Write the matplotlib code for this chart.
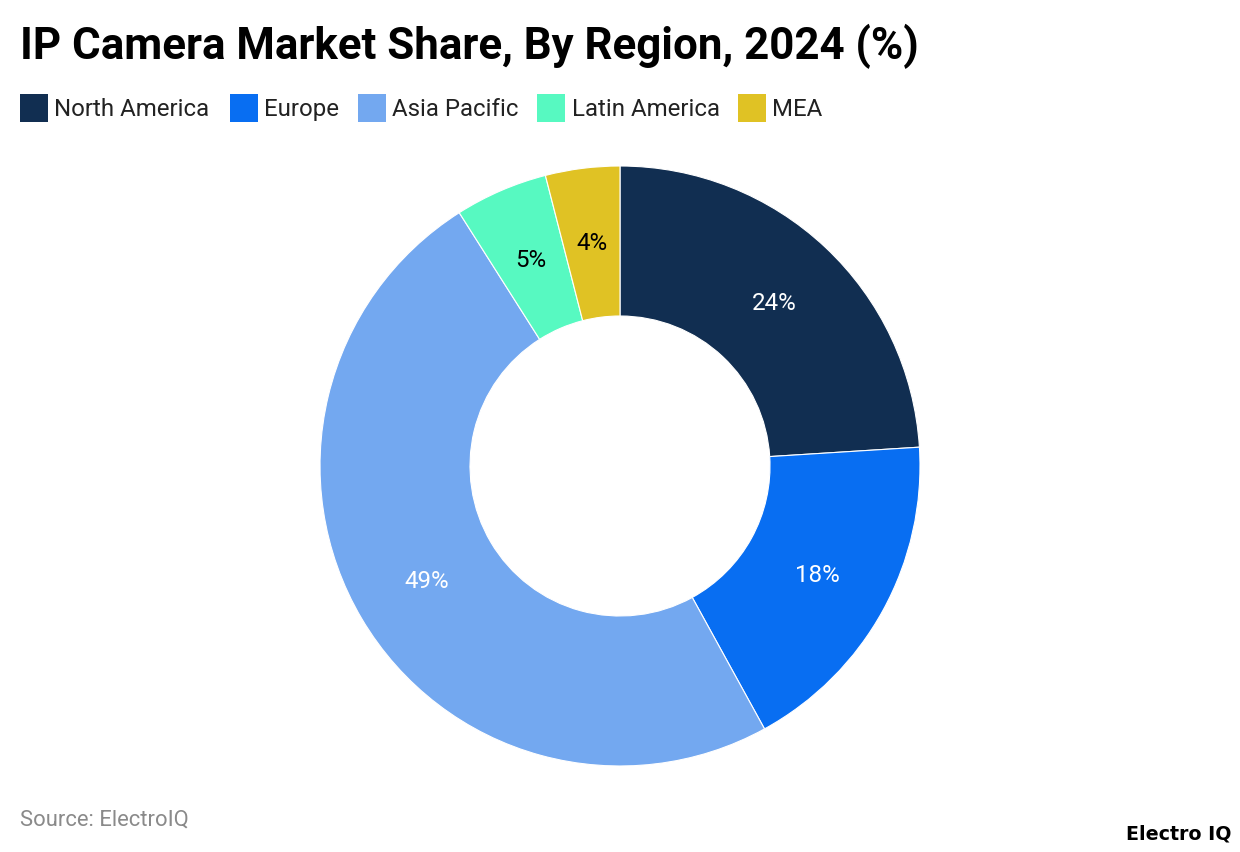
import numpy as np
import matplotlib
matplotlib.use("Agg")
import matplotlib.pyplot as plt
from matplotlib.patches import Rectangle

plt.rcParams["font.family"] = "Roboto"

regions = ["North America", "Europe", "Asia Pacific", "Latin America", "MEA"]
shares = [24, 18, 49, 5, 4]
colors = ["#112E51", "#086EF2", "#73A8F0", "#57F9C1", "#E0C224"]
label_colors = ["white", "white", "white", "black", "black"]
# left edge of each legend swatch, in pixels
legend_x = [20, 230, 358, 537, 738]

W, H = 1240, 852
fig = plt.figure(figsize=(W / 100, H / 100), dpi=100, facecolor="white")

# full-figure axes in pixel coords for the text and the legend
bg = fig.add_axes([0, 0, 1, 1])
bg.set_xlim(0, W)
bg.set_ylim(H, 0)
bg.axis("off")

bg.text(20, 46, "IP Camera Market Share, By Region, 2024 (%)", fontsize=31.63,
        fontweight="bold", color="black", va="center", ha="left")

for name, c, x in zip(regions, colors, legend_x):
    bg.add_patch(Rectangle((x, 94), 28, 28, facecolor=c, edgecolor="none"))
    bg.text(x + 34.5, 109.5, name, fontsize=17.25, color="#222222", va="center", ha="left")

bg.text(20, 820, "Source: ElectroIQ", fontsize=15.8, color="#8a8a8a", va="center", ha="left")
bg.text(1232, 834, "Electro IQ", fontsize=13.7, fontweight="bold", color="black",
        va="center", ha="right", family="DejaVu Sans")

# donut: centre (620, 466), radius 300
R = 300
ax = fig.add_axes([(620 - R) / W, 1 - (466 + R) / H, 2 * R / W, 2 * R / H])
wedges, _ = ax.pie(shares, colors=colors, startangle=90, counterclock=False, radius=1,
                   wedgeprops=dict(width=0.5, edgecolor="white", linewidth=0.8))
ax.set_xlim(-1, 1)
ax.set_ylim(-1, 1)

start = 90
for s, lc in zip(shares, label_colors):
    mid = start - s * 3.6 / 2
    start -= s * 3.6
    th = np.deg2rad(mid)
    ax.text(0.75 * np.cos(th), 0.75 * np.sin(th) - 0.004, f"{s}%", color=lc, fontsize=17.4,
            ha="center", va="center")

fig.savefig("out.png", dpi=100)
